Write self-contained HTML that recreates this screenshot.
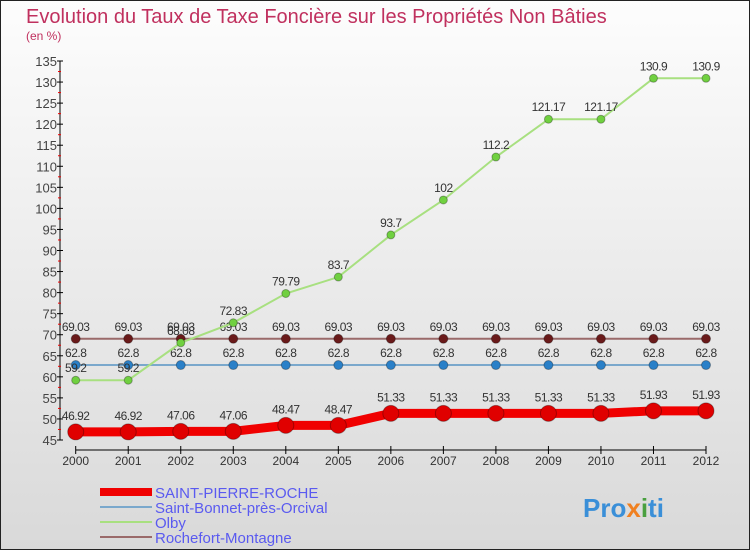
<!DOCTYPE html>
<html><head><meta charset="utf-8"><style>
body{margin:0}
svg{display:block;font-family:"Liberation Sans",sans-serif}
</style></head><body>
<svg id="c" width="750" height="550" xmlns="http://www.w3.org/2000/svg">
<defs><linearGradient id="bg" x1="0" y1="0" x2="0" y2="1"><stop offset="0" stop-color="#fdfdfd"/><stop offset="1" stop-color="#d9d9d9"/></linearGradient></defs>
<rect x="0.5" y="0.5" width="749" height="549" fill="url(#bg)" stroke="#222"/>
<text x="26" y="23" font-size="20" fill="#c0305e">Evolution du Taux de Taxe Foncière sur les Propriétés Non Bâties</text>
<text x="26" y="40" font-size="12" fill="#c0305e">(en %)</text>
<g id="axes"></g><g id="series"></g><g id="legend"></g>
<text x="583" y="517" font-size="26" font-weight="bold" fill="#3a8fd8">Pro<tspan fill="#f08020">x</tspan><tspan fill="#4aa040">i</tspan>ti</text>
</svg>
<script>
const years=[2000,2001,2002,2003,2004,2005,2006,2007,2008,2009,2010,2011,2012];
const yTicks=[45,50,55,60,65,70,75,80,85,90,95,100,105,110,115,120,125,130,135];
const names=["SAINT-PIERRE-ROCHE","Saint-Bonnet-près-Orcival","Olby","Rochefort-Montagne"];
const spr=[46.92,46.92,47.06,47.06,48.47,48.47,51.33,51.33,51.33,51.33,51.33,51.93,51.93];
const sbo=[62.8,62.8,62.8,62.8,62.8,62.8,62.8,62.8,62.8,62.8,62.8,62.8,62.8];
const olby=[59.2,59.2,68.08,72.83,79.79,83.7,93.7,102,112.2,121.17,121.17,130.9,130.9];
const roch=[69.03,69.03,69.03,69.03,69.03,69.03,69.03,69.03,69.03,69.03,69.03,69.03,69.03];
const NS="http://www.w3.org/2000/svg";
const X=i=>75.7+i*(706-75.7)/(years.length-1);
const Y=v=>440-(v-45)*(440-61)/90;
function mk(p,t,a){const e=document.createElementNS(NS,t);for(const k in a)e.setAttribute(k,a[k]);p.appendChild(e);return e;}
const ax=document.getElementById('axes');
let l=mk(ax,'line',{x1:60,y1:Y(135),x2:60,y2:Y(45),stroke:'#000'});


yTicks.forEach((v,k)=>{
 mk(ax,'line',{x1:57,y1:Y(v),x2:63,y2:Y(v),stroke:'#000'});
 if(k<yTicks.length-1) mk(ax,'line',{x1:58,y1:Y(v+2.5),x2:61,y2:Y(v+2.5),stroke:'#e00'});
 const t=mk(ax,'text',{x:57,y:Y(v)+5,'text-anchor':'end','font-size':13,fill:'#444'});t.textContent=v;
 
 
});
l=mk(ax,'line',{x1:X(0),y1:450,x2:X(12),y2:450,stroke:'#000'});


years.forEach((y,i)=>{
 mk(ax,'line',{x1:X(i),y1:446,x2:X(i),y2:454,stroke:'#000'});
 const t=mk(ax,'text',{x:X(i),y:465,'text-anchor':'middle','font-size':12,fill:'#333'});t.textContent=y;
 
 
});
const sg=document.getElementById('series');
const specs=[[roch,'#9a6a6a','#6a1a1a',2,4.5,'rochefort-montagne'],[sbo,'#7aa8cc','#2a80c8',2,4.5,'saint-bonnet'],[olby,'#a8e080','#70d040',2,4,'olby'],[spr,'#f00000','#e00000',9,8,'saint-pierre-roche']];
specs.forEach(([d,lc,pc,w,r,n])=>{
 const g=mk(sg,'g',{});
 
 
 const p=mk(g,'polyline',{points:d.map((v,i)=>X(i)+','+Y(v)).join(' '),fill:'none',stroke:lc,'stroke-width':w});
 
 
 d.forEach((v,i)=>{
  const c=mk(g,'circle',{cx:X(i),cy:Y(v),r:r,fill:pc,stroke:'rgba(0,0,0,0.3)'});
  
  
  const t=mk(g,'text',{x:X(i),y:Y(v)-(n==='saint-pierre-roche'?12:8),'text-anchor':'middle','font-size':12,fill:'#333','letter-spacing':'-0.5'});t.textContent=v;
  
  
 });
});
const lg=document.getElementById('legend');
const lc=['#f00000','#7aa8cc','#a8e080','#9a6a6a'],lw=[8,2,2,2];
names.forEach((n,i)=>{
 const y=492+i*15;
 const ln=mk(lg,'line',{x1:100,y1:y,x2:152,y2:y,stroke:lc[i],'stroke-width':lw[i]});
 
 
 const t=mk(lg,'text',{x:155,y:y+6,'font-size':15,fill:'#5a5af0'});t.textContent=n;
 
 
});
</script>
</body></html>
